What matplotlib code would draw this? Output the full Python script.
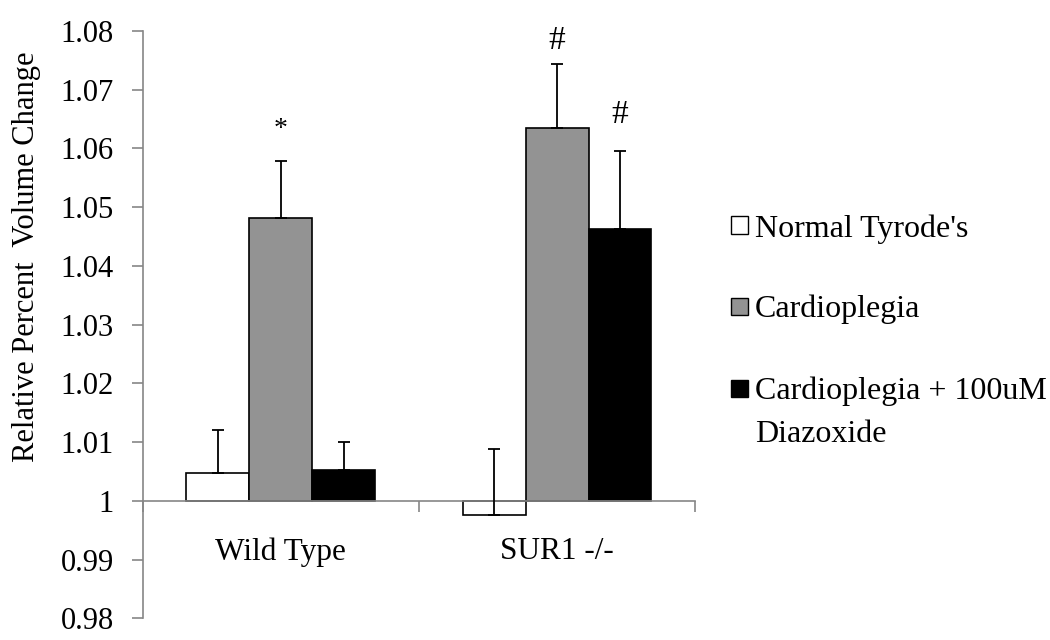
import matplotlib
matplotlib.use('Agg')
import matplotlib.pyplot as plt
from matplotlib.patches import Rectangle
import numpy as np

plt.rcParams['font.family'] = ['Liberation Serif', 'DejaVu Serif']

groups = ['Wild Type', 'SUR1 -/-']
series = ["Normal Tyrode's", 'Cardioplegia', 'Cardioplegia + 100uM\nDiazoxide']
values = [[1.0048, 0.9977],
          [1.0482, 1.0635],
          [1.0053, 1.0463]]
errors = [[0.0073, 0.0111],
          [0.0096, 0.0108],
          [0.0047, 0.0133]]
colors = ['white', '#939393', 'black']
marks = [['', ''], ['*', '#'], ['', '#']]
# gap between error cap and significance mark, in data units
mark_gap = [[0, 0], [0.0054, 0.0041], [0, 0.0061]]

fig = plt.figure(figsize=(10.5, 6.4), dpi=100)
ax = fig.add_axes([0.136, 0.0336, 0.526, 0.918])

x = np.arange(len(groups))
w = 0.228
for i in range(len(series)):
    pos = x + (i - 1) * w
    base = np.array(values[i]) - 1
    ax.bar(pos, base, width=w, bottom=1, color=colors[i], edgecolor='black',
           linewidth=1.2, label=series[i], zorder=2)
    ax.errorbar(pos, values[i], yerr=[np.zeros(2), errors[i]], fmt='none',
                ecolor='black', elinewidth=1.3, capsize=4, capthick=1.3, zorder=3)
    for j in range(len(groups)):
        if marks[i][j]:
            top = values[i][j] + errors[i][j]
            ax.text(pos[j], top + mark_gap[i][j], marks[i][j], ha='center',
                    va='center', fontsize=24 if marks[i][j] == '#' else 20)

ax.set_xlim(-0.5, 1.5)
ax.set_ylim(0.98, 1.08)
ax.set_yticks(np.arange(0.98, 1.0801, 0.01))
ax.set_yticklabels(['0.98', '0.99', '1', '1.01', '1.02', '1.03', '1.04',
                    '1.05', '1.06', '1.07', '1.08'])
ax.tick_params(axis='y', labelsize=22, length=8, width=1.2, color='#868686', pad=13)

ax.spines['top'].set_visible(False)
ax.spines['right'].set_visible(False)
ax.spines['left'].set_color('#868686')
ax.spines['left'].set_linewidth(1.2)
ax.spines['bottom'].set_position(('data', 1))
ax.spines['bottom'].set_color('#868686')
ax.spines['bottom'].set_linewidth(1.2)

ax.set_xticks(x)
ax.set_xticklabels(groups)
ax.set_xticks([-0.5, 0.5, 1.5], minor=True)
ax.tick_params(axis='x', which='major', length=0, labelsize=22.5, pad=26)
ax.tick_params(axis='x', which='minor', length=8, width=1.2, color='#868686')

fig.text(0.025, 1 - 257 / 640, 'Relative Percent  Volume Change', rotation=90,
         ha='center', va='center', fontsize=22)

# legend drawn by hand so the swatch lines up with the first text line
leg_y = [225, 306, 388]
for c, lab, yy in zip(colors, series, leg_y):
    fig.patches.append(Rectangle((731 / 1050, 1 - (yy + 8.5) / 640), 17 / 1050, 17 / 640,
                                 transform=fig.transFigure, facecolor=c,
                                 edgecolor='black', linewidth=1.0))
    fig.text(755 / 1050, 1 - (yy - 11) / 640, lab, ha='left', va='top',
             fontsize=23, linespacing=1.6)

fig.savefig('out.png', dpi=100)
